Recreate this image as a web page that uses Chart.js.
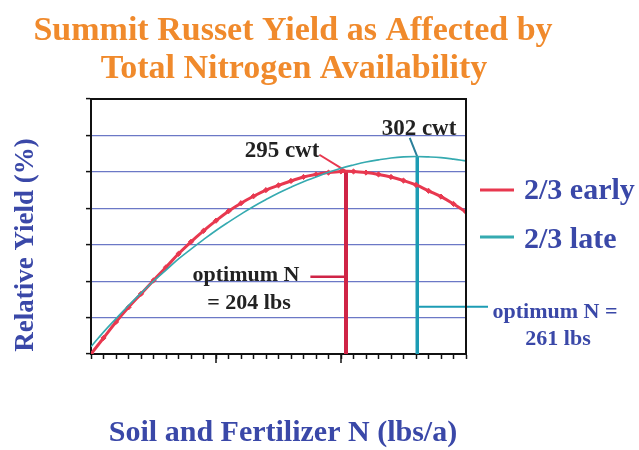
<!DOCTYPE html>
<html><head><meta charset="utf-8">
<script src="https://cdn.jsdelivr.net/npm/chart.js@4"></script>
<style>html,body{margin:0;padding:0;background:#fff;overflow:hidden}</style>
</head><body>
<canvas id="c" width="639" height="450"></canvas>
<script>
// ---- data ----
const nitrogen = [0,10,20,30,40,50,60,70,80,90,100,110,120,130,140,150,160,170,180,190,200,210,220,230,240,250,260,270,280,290,300];
const earlyYield = [0.00,0.44,0.88,1.28,1.65,2.02,2.38,2.75,3.08,3.38,3.66,3.92,4.14,4.33,4.50,4.63,4.75,4.86,4.93,4.98,5.01,5.01,4.98,4.93,4.86,4.76,4.64,4.48,4.32,4.12,3.90];
const lateYield  = [0.20,0.60,0.97,1.33,1.67,2.00,2.30,2.61,2.88,3.14,3.39,3.62,3.84,4.05,4.24,4.42,4.58,4.73,4.86,4.99,5.10,5.19,5.27,5.33,5.38,5.41,5.42,5.41,5.39,5.35,5.30];
const seriesNames = ['2/3 early','2/3 late'];
const optimumN = [204, 261];
const optimumYield = [5.02, 5.42];
const cwtLabels = ['295 cwt','302 cwt'];
const yTickValues = [0,1,2,3,4,5,6,7];
// annotation leader lines (data units)
const earlyCwtLeader = [[182.7,5.47],[204,5.02]];
const lateCwtLeader  = [[255,5.93],[261,5.42]];
const earlyOptLeader = [[175.5,2.12],[204,2.12]];
const lateOptLeader  = [[261,1.30],[317.6,1.30]];

const RED = '#e8384f', RED_V = '#cf2446', CYAN = '#35aab0', CYAN_V = '#1c9cb4';
const BLUE_TXT = '#3a48a8', ORANGE = '#f08a2c';
const SERIF = '"Liberation Serif","Times New Roman",serif';

const pts = (xs, ys) => xs.map((x,i)=>({x, y: ys[i]}));
const seg = arr => arr.map(p=>({x:p[0], y:p[1]}));

const datasets = [
  {label: seriesNames[1], data: pts(nitrogen, lateYield), borderColor: CYAN, borderWidth: 1.6, pointRadius: 0, tension: 0.4, fill:false},
  {label: seriesNames[0], data: pts(nitrogen, earlyYield), borderColor: RED, backgroundColor: RED, borderWidth: 3, pointRadius: 2.6, pointStyle: 'rectRot', pointBorderWidth: 1, tension: 0.4, fill:false},
  {label: 'optE', data: [{x: optimumN[0], y: 0}, {x: optimumN[0], y: optimumYield[0]}], borderColor: RED_V, borderWidth: 4, pointRadius: 0},
  {label: 'optL', data: [{x: optimumN[1], y: 0}, {x: optimumN[1], y: optimumYield[1]}], borderColor: CYAN_V, borderWidth: 3.5, pointRadius: 0},
  {label: 'l1', data: seg(earlyCwtLeader), borderColor: RED, borderWidth: 2, pointRadius: 0, clip: false},
  {label: 'l2', data: seg(lateCwtLeader), borderColor: '#2a7f9a', borderWidth: 2, pointRadius: 0, clip: false},
  {label: 'l3', data: seg(earlyOptLeader), borderColor: RED_V, borderWidth: 2.5, pointRadius: 0, clip: false},
  {label: 'l4', data: seg(lateOptLeader), borderColor: CYAN_V, borderWidth: 2, pointRadius: 0, clip: false}
];

const decor = {
  id: 'decor',
  afterDraw(chart) {
    const {ctx, chartArea: a, scales: {x}} = chart;
    ctx.save();
    // top & right frame
    ctx.strokeStyle = '#111'; ctx.lineWidth = 2;
    ctx.beginPath(); ctx.moveTo(a.left, a.top); ctx.lineTo(a.right, a.top); ctx.lineTo(a.right, a.bottom); ctx.stroke();
    // longer major ticks
    ctx.lineWidth = 1.5;
    [100, 200].forEach(v => { const px = x.getPixelForValue(v); ctx.beginPath(); ctx.moveTo(px, a.bottom); ctx.lineTo(px, a.bottom + 9); ctx.stroke(); });
    // titles
    ctx.textAlign = 'center'; ctx.textBaseline = 'alphabetic';
    ctx.fillStyle = ORANGE; ctx.font = 'bold 34px ' + SERIF;
    ctx.fillText('Summit Russet Yield as Affected by', 293, 40);
    ctx.fillText('Total Nitrogen Availability', 294, 78);
    ctx.fillStyle = BLUE_TXT; ctx.font = 'bold 30px ' + SERIF;
    ctx.fillText('Soil and Fertilizer N (lbs/a)', 283, 441);
    ctx.save(); ctx.translate(33, 245); ctx.rotate(-Math.PI/2);
    ctx.font = 'bold 27px ' + SERIF; ctx.fillText('Relative Yield (%)', 0, 0); ctx.restore();
    // annotations
    ctx.fillStyle = '#222'; ctx.font = 'bold 23px ' + SERIF;
    ctx.fillText(cwtLabels[0], 282, 157);
    ctx.fillText(cwtLabels[1], 419, 135);
    ctx.font = 'bold 22px ' + SERIF;
    ctx.fillText('optimum N', 246, 281);
    ctx.fillText('= ' + optimumN[0] + ' lbs', 249, 309);
    ctx.fillStyle = BLUE_TXT;
    ctx.fillText('optimum N =', 555, 318);
    ctx.fillText(optimumN[1] + ' lbs', 558, 345);
    // legend
    ctx.textAlign = 'left'; ctx.font = 'bold 30px ' + SERIF;
    ctx.lineWidth = 3;
    ctx.strokeStyle = RED; ctx.beginPath(); ctx.moveTo(480, 190); ctx.lineTo(514, 190); ctx.stroke();
    ctx.fillText(seriesNames[0], 524, 199);
    ctx.strokeStyle = CYAN; ctx.beginPath(); ctx.moveTo(480, 237); ctx.lineTo(514, 237); ctx.stroke();
    ctx.fillText(seriesNames[1], 524, 248);
    ctx.restore();
  }
};

new Chart(document.getElementById('c'), {
  type: 'line',
  data: {datasets},
  options: {
    responsive: false, animation: false,
    layout: {padding: {left: 86, right: 173, top: 99, bottom: 91}},
    plugins: {legend: {display: false}, title: {display: false}, tooltip: {enabled: false}},
    scales: {
      x: {type: 'linear', min: 0, max: 300,
          ticks: {display: false, stepSize: 10},
          grid: {drawOnChartArea: false, drawTicks: true, tickLength: 5, tickColor: '#111', tickWidth: 1.5},
          border: {display: true, color: '#111', width: 2}},
      y: {type: 'linear', min: yTickValues[0], max: yTickValues[yTickValues.length-1],
          ticks: {display: false, stepSize: 1},
          grid: {drawTicks: true, tickLength: 5, tickColor: '#111', tickWidth: 1.5,
                 color: c => (c.tick && (c.tick.value === 0 || c.tick.value === 7)) ? 'rgba(0,0,0,0)' : '#6b78c6', lineWidth: 1.2},
          border: {display: true, color: '#111', width: 2}}
    }
  },
  plugins: [decor]
});
</script>
</body></html>
